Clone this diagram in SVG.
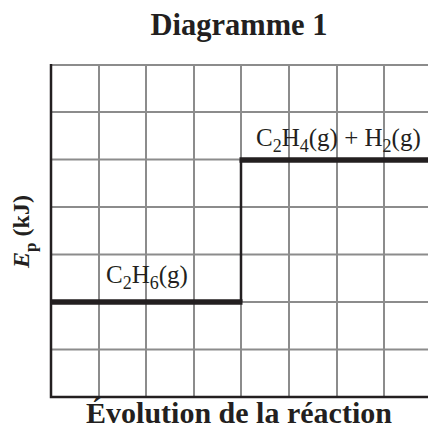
<svg xmlns="http://www.w3.org/2000/svg" width="428" height="429" viewBox="0 0 428 429">
<style>
.grid line{stroke:#8c8c8c;stroke-width:2}
.axis{stroke:#231f20;stroke-width:2.5;fill:none}
.level{stroke:#231f20;stroke-width:5.5}
.conn{stroke:#231f20;stroke-width:2.5;fill:none}
.t{font-family:"Liberation Serif","Times New Roman",serif;fill:#231f20}
.b{font-weight:bold}
.lbl{font-size:25px}
.sub{font-size:18px}
</style>
<rect width="428" height="429" fill="#fff"/>
<text id="title" class="t b" x="239" y="35" font-size="30.5" text-anchor="middle">Diagramme 1</text>
<g id="grid" class="grid">
<line x1="99" y1="65" x2="99" y2="397"/>
<line x1="146" y1="65" x2="146" y2="397"/>
<line x1="194" y1="65" x2="194" y2="397"/>
<line x1="241" y1="65" x2="241" y2="397"/>
<line x1="289" y1="65" x2="289" y2="397"/>
<line x1="337" y1="65" x2="337" y2="397"/>
<line x1="384" y1="65" x2="384" y2="397"/>
<line x1="51" y1="65" x2="428" y2="65"/>
<line x1="51" y1="112" x2="428" y2="112"/>
<line x1="51" y1="159.5" x2="428" y2="159.5"/>
<line x1="51" y1="207" x2="428" y2="207"/>
<line x1="51" y1="254.5" x2="428" y2="254.5"/>
<line x1="51" y1="302" x2="428" y2="302"/>
<line x1="51" y1="349.5" x2="428" y2="349.5"/>
</g>
<g id="axes">
<path class="axis" d="M51,64 V397 H428"/>
<text class="t b" font-size="24" transform="translate(29,231.5) rotate(-90)" text-anchor="middle"><tspan font-style="italic">E</tspan><tspan font-size="17" dy="7">p</tspan><tspan dy="-7"> (kJ)</tspan></text>
<text class="t b" x="239" y="423" font-size="30" text-anchor="middle">Évolution de la réaction</text>
</g>
<g id="connectors">
<line class="conn" x1="241" y1="160" x2="241" y2="302"/>
</g>
<g id="reactant">
<line class="level" x1="51" y1="302" x2="242.5" y2="302"/>
<text class="t lbl" x="106" y="283">C<tspan class="sub" dy="6">2</tspan><tspan dy="-6">H</tspan><tspan class="sub" dy="6">6</tspan><tspan dy="-6">(g)</tspan></text>
</g>
<g id="products">
<line class="level" x1="239.5" y1="160" x2="428" y2="160"/>
<text class="t lbl" x="256" y="146">C<tspan class="sub" dy="6">2</tspan><tspan dy="-6">H</tspan><tspan class="sub" dy="6">4</tspan><tspan dy="-6">(g) + H</tspan><tspan class="sub" dy="6">2</tspan><tspan dy="-6">(g)</tspan></text>
</g>
</svg>
